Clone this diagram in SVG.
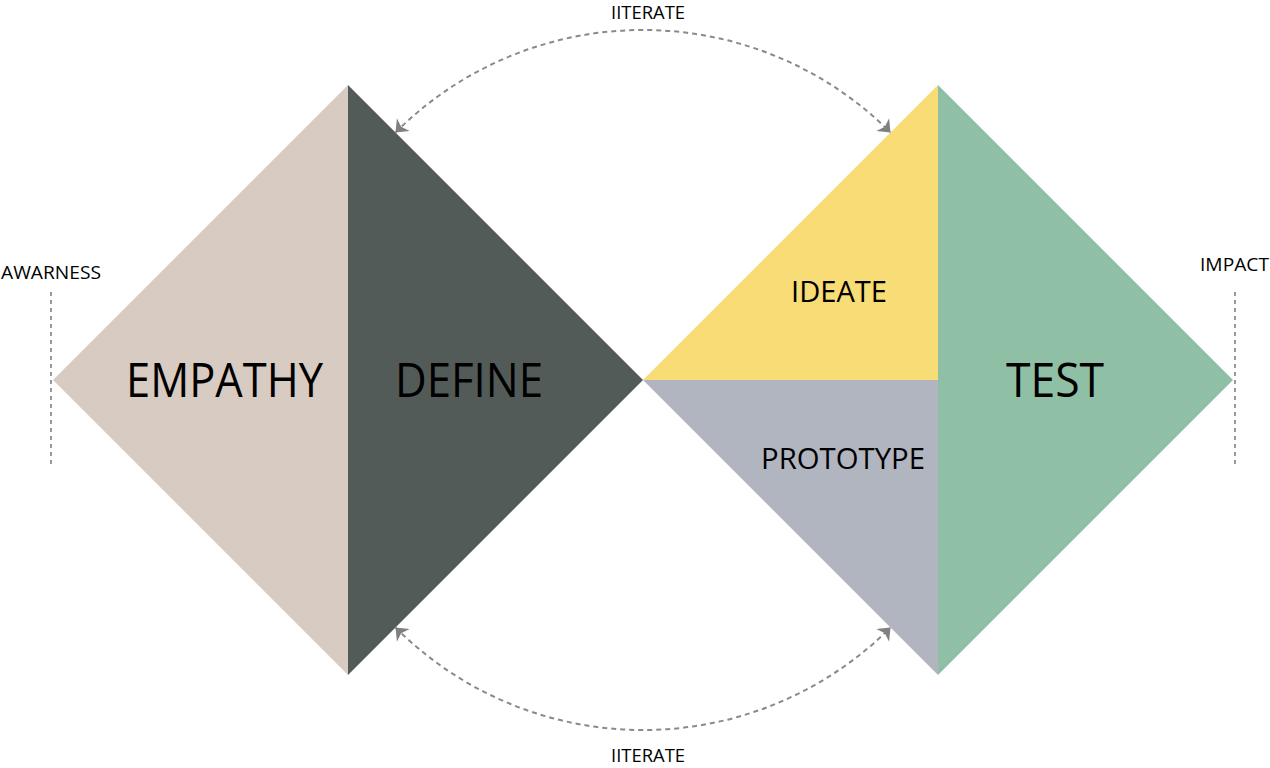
<svg xmlns="http://www.w3.org/2000/svg" width="1270" height="768" viewBox="0 0 1270 768">
<style>
.lbl{font-family:"Open Sans","Noto Sans",sans-serif;fill:#000;}
.big{font-size:48px;}
.mid{font-size:29px;}
.sm{font-size:18px;}
.arc{fill:none;stroke:#8a8a8a;stroke-width:2;stroke-dasharray:5 4;}
.vline{fill:none;stroke:#808080;stroke-width:1.6;stroke-dasharray:4 4;}
</style>
<defs>
<marker id="ah" viewBox="-12 -10 14 20" refX="0" refY="0" markerWidth="14" markerHeight="20" markerUnits="userSpaceOnUse" orient="auto-start-reverse">
<path d="M0,0 L-11,-9 L-8,0 L-11,9 Z" fill="#808080"/>
</marker>
</defs>
<rect width="1270" height="768" fill="#ffffff"/>
<g id="empathy">
<polygon points="53,380 348,85 348,675" fill="#d8cbc1"/>
<text class="lbl big" x="126" y="397" textLength="197" lengthAdjust="spacingAndGlyphs">EMPATHY</text>
</g>
<g id="define">
<polygon points="348,85 643,380 348,675" fill="#535b59"/>
<text class="lbl big" x="395" y="397" textLength="148" lengthAdjust="spacingAndGlyphs">DEFINE</text>
</g>
<g id="ideate">
<polygon points="643,380 938,85 938,380" fill="#f8dc75"/>
<text class="lbl mid" x="791" y="302" textLength="96" lengthAdjust="spacingAndGlyphs">IDEATE</text>
</g>
<g id="prototype">
<polygon points="643,380 938,380 938,675" fill="#b1b5c0"/>
<text class="lbl mid" x="761" y="469" textLength="164" lengthAdjust="spacingAndGlyphs">PROTOTYPE</text>
</g>
<g id="test">
<polygon points="938,85 1233,380 938,675" fill="#8fc0a6"/>
<text class="lbl big" x="1006" y="397" textLength="98" lengthAdjust="spacingAndGlyphs">TEST</text>
</g>
<g id="awareness">
<text class="lbl sm" x="1" y="279" textLength="100" lengthAdjust="spacingAndGlyphs">AWARNESS</text>
</g>
<g id="impact">
<text class="lbl sm" x="1200" y="271" textLength="69" lengthAdjust="spacingAndGlyphs">IMPACT</text>
</g>
<g id="iterate-top">
<text class="lbl sm" x="611" y="19" textLength="74" lengthAdjust="spacingAndGlyphs">IITERATE</text>
</g>
<g id="iterate-bottom">
<text class="lbl sm" x="611" y="762" textLength="74" lengthAdjust="spacingAndGlyphs">IITERATE</text>
</g>
<g id="connectors">
<path class="arc" d="M395.5,132.5 A350,350 0 0 1 890.5,132.5" marker-start="url(#ah)" marker-end="url(#ah)"/>
<path class="arc" d="M395.5,627.5 A350,350 0 0 0 890.5,627.5" marker-start="url(#ah)" marker-end="url(#ah)"/>
<line class="vline" x1="51" y1="292" x2="51" y2="466"/>
<line class="vline" x1="1235" y1="292" x2="1235" y2="466"/>
</g>
</svg>
